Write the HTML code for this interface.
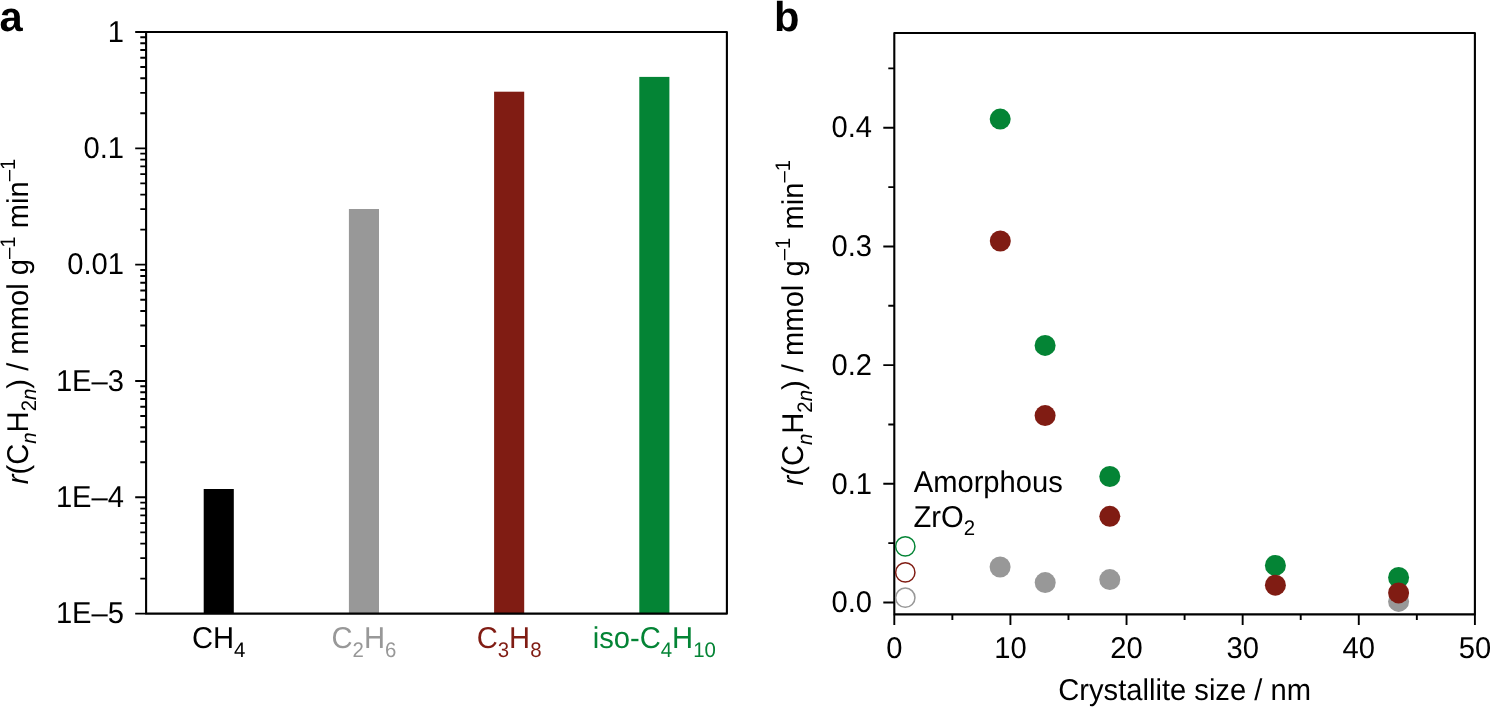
<!DOCTYPE html>
<html lang="en"><head><meta charset="utf-8"><title>Figure</title>
<style>html,body{margin:0;padding:0;background:#fff}body{width:1490px;height:707px;overflow:hidden}svg{display:block}text{text-rendering:geometricPrecision;font-family:"Liberation Sans",sans-serif;fill:#000}</style>
</head><body>
<svg width="1490" height="707" viewBox="0 0 1490 707">
<rect x="0" y="0" width="1490" height="707" fill="#fff"/>
<rect x="203.70" y="489.00" width="30.1" height="124.65" fill="#000000"/>
<rect x="348.90" y="209.00" width="30.1" height="404.65" fill="#989898"/>
<rect x="494.10" y="91.70" width="30.1" height="521.95" fill="#801c13"/>
<rect x="639.30" y="76.90" width="30.1" height="536.75" fill="#048435"/>
<rect x="146.1" y="32.0" width="580.80" height="581.65" fill="none" stroke="#000" stroke-width="2.1" stroke-linejoin="round"/>
<path d="M146.1,32.00H135.2M146.1,113.31H140.3M146.1,92.83H140.3M146.1,78.29H140.3M146.1,67.02H140.3M146.1,57.81H140.3M146.1,50.02H140.3M146.1,43.27H140.3M146.1,37.32H140.3M146.1,148.33H135.2M146.1,229.64H140.3M146.1,209.16H140.3M146.1,194.62H140.3M146.1,183.35H140.3M146.1,174.14H140.3M146.1,166.35H140.3M146.1,159.60H140.3M146.1,153.65H140.3M146.1,264.66H135.2M146.1,345.97H140.3M146.1,325.49H140.3M146.1,310.95H140.3M146.1,299.68H140.3M146.1,290.47H140.3M146.1,282.68H140.3M146.1,275.93H140.3M146.1,269.98H140.3M146.1,380.99H135.2M146.1,462.30H140.3M146.1,441.82H140.3M146.1,427.28H140.3M146.1,416.01H140.3M146.1,406.80H140.3M146.1,399.01H140.3M146.1,392.26H140.3M146.1,386.31H140.3M146.1,497.32H135.2M146.1,578.63H140.3M146.1,558.15H140.3M146.1,543.61H140.3M146.1,532.34H140.3M146.1,523.13H140.3M146.1,515.34H140.3M146.1,508.59H140.3M146.1,502.64H140.3M146.1,613.65H135.2" stroke="#000" stroke-width="1.9" fill="none" stroke-linecap="butt"/>
<text transform="translate(124,41.60) scale(1,1.03)" font-size="29.17" text-anchor="end">1</text>
<text transform="translate(124,157.93) scale(1,1.03)" font-size="29.17" text-anchor="end">0.1</text>
<text transform="translate(124,274.26) scale(1,1.03)" font-size="29.17" text-anchor="end">0.01</text>
<text transform="translate(124,390.59) scale(1,1.03)" font-size="29.17" text-anchor="end">1E–3</text>
<text transform="translate(124,506.92) scale(1,1.03)" font-size="29.17" text-anchor="end">1E–4</text>
<text transform="translate(124,623.25) scale(1,1.03)" font-size="29.17" text-anchor="end">1E–5</text>
<text transform="translate(218.7,648.3) scale(1,1.03)" font-size="29.17" text-anchor="middle" style="fill:#000">CH<tspan font-size="20.4" dy="8.5">4</tspan></text>
<text transform="translate(363.9,648.3) scale(1,1.03)" font-size="29.17" text-anchor="middle" style="fill:#989898">C<tspan font-size="20.4" dy="8.5">2</tspan><tspan dy="-8.5">H</tspan><tspan font-size="20.4" dy="8.5">6</tspan></text>
<text transform="translate(509.1,648.3) scale(1,1.03)" font-size="29.17" text-anchor="middle" style="fill:#801c13">C<tspan font-size="20.4" dy="8.5">3</tspan><tspan dy="-8.5">H</tspan><tspan font-size="20.4" dy="8.5">8</tspan></text>
<text transform="translate(654.3,648.3) scale(1,1.03)" font-size="29.17" text-anchor="middle" style="fill:#048435">iso-C<tspan font-size="20.4" dy="8.5">4</tspan><tspan dy="-8.5">H</tspan><tspan font-size="20.4" dy="8.5">10</tspan></text>
<text transform="translate(27.7,321.4) rotate(-90) scale(1,1.03)" font-size="29.17" text-anchor="middle"><tspan font-style="italic">r</tspan>(C<tspan font-size="20.4" dy="8.5" font-style="italic">n</tspan><tspan dy="-8.5">H</tspan><tspan font-size="20.4" dy="8.5">2<tspan font-style="italic">n</tspan></tspan><tspan dy="-8.5">) / mmol g</tspan><tspan font-size="20.4" dy="-12.5">–1</tspan><tspan dy="12.5"> min</tspan><tspan font-size="20.4" dy="-12.5">–1</tspan></text>
<text x="-0.5" y="31" font-size="41.67" font-weight="bold">a</text>
<rect x="894.3" y="33.0" width="580.60" height="581.40" fill="none" stroke="#000" stroke-width="2.1" stroke-linejoin="round"/>
<path d="M894.3,602.50H883.3M894.3,543.16H888.3M894.3,483.81H883.3M894.3,424.47H888.3M894.3,365.12H883.3M894.3,305.78H888.3M894.3,246.44H883.3M894.3,187.09H888.3M894.3,127.75H883.3M894.3,68.41H888.3M894.30,614.4V624.9M952.36,614.4V620M1010.42,614.4V624.9M1068.48,614.4V620M1126.54,614.4V624.9M1184.60,614.4V620M1242.66,614.4V624.9M1300.72,614.4V620M1358.78,614.4V624.9M1416.84,614.4V620M1474.90,614.4V624.9" stroke="#000" stroke-width="1.9" fill="none" stroke-linecap="butt"/>
<text transform="translate(872,612.20) scale(1,1.03)" font-size="29.17" text-anchor="end">0.0</text>
<text transform="translate(872,493.51) scale(1,1.03)" font-size="29.17" text-anchor="end">0.1</text>
<text transform="translate(872,374.82) scale(1,1.03)" font-size="29.17" text-anchor="end">0.2</text>
<text transform="translate(872,256.14) scale(1,1.03)" font-size="29.17" text-anchor="end">0.3</text>
<text transform="translate(872,137.45) scale(1,1.03)" font-size="29.17" text-anchor="end">0.4</text>
<text transform="translate(894.30,658.2) scale(1,1.03)" font-size="29.17" text-anchor="middle">0</text>
<text transform="translate(1010.42,658.2) scale(1,1.03)" font-size="29.17" text-anchor="middle">10</text>
<text transform="translate(1126.54,658.2) scale(1,1.03)" font-size="29.17" text-anchor="middle">20</text>
<text transform="translate(1242.66,658.2) scale(1,1.03)" font-size="29.17" text-anchor="middle">30</text>
<text transform="translate(1358.78,658.2) scale(1,1.03)" font-size="29.17" text-anchor="middle">40</text>
<text transform="translate(1474.90,658.2) scale(1,1.03)" font-size="29.17" text-anchor="middle">50</text>
<text transform="translate(1184.6,700) scale(1,1.03)" font-size="29.17" text-anchor="middle">Crystallite size / nm</text>
<text transform="translate(803,322.7) rotate(-90) scale(1,1.03)" font-size="29.17" text-anchor="middle"><tspan font-style="italic">r</tspan>(C<tspan font-size="20.4" dy="8.5" font-style="italic">n</tspan><tspan dy="-8.5">H</tspan><tspan font-size="20.4" dy="8.5">2<tspan font-style="italic">n</tspan></tspan><tspan dy="-8.5">) / mmol g</tspan><tspan font-size="20.4" dy="-12.5">–1</tspan><tspan dy="12.5"> min</tspan><tspan font-size="20.4" dy="-12.5">–1</tspan></text>
<text x="774" y="31" font-size="41.67" font-weight="bold">b</text>
<text transform="translate(913.7,491.7) scale(1,1.03)" font-size="29.17">Amorphous</text>
<text transform="translate(913.5,526.5) scale(1,1.03)" font-size="29.17">ZrO<tspan font-size="20.4" dy="8.5">2</tspan></text>
<circle cx="905.3" cy="597.7" r="9.65" fill="#fff" stroke="#989898" stroke-width="1.5"/>
<circle cx="905.3" cy="572.4" r="9.65" fill="#fff" stroke="#801c13" stroke-width="1.5"/>
<circle cx="905.3" cy="546.4" r="9.65" fill="#fff" stroke="#048435" stroke-width="1.5"/>
<circle cx="1000.1" cy="567.0" r="10.5" fill="#989898"/>
<circle cx="1045.2" cy="582.6" r="10.5" fill="#989898"/>
<circle cx="1109.8" cy="579.6" r="10.5" fill="#989898"/>
<circle cx="1398.6" cy="601.4" r="10.5" fill="#989898"/>
<circle cx="1000.2" cy="119.1" r="10.5" fill="#048435"/>
<circle cx="1045.1" cy="345.4" r="10.5" fill="#048435"/>
<circle cx="1109.8" cy="476.5" r="10.5" fill="#048435"/>
<circle cx="1275.4" cy="565.4" r="10.5" fill="#048435"/>
<circle cx="1398.6" cy="577.5" r="10.5" fill="#048435"/>
<circle cx="1000.3" cy="241.0" r="10.5" fill="#801c13"/>
<circle cx="1045.1" cy="415.6" r="10.5" fill="#801c13"/>
<circle cx="1109.8" cy="516.3" r="10.5" fill="#801c13"/>
<circle cx="1275.4" cy="585.2" r="10.5" fill="#801c13"/>
<circle cx="1398.6" cy="592.9" r="10.5" fill="#801c13"/>
</svg></body></html>
